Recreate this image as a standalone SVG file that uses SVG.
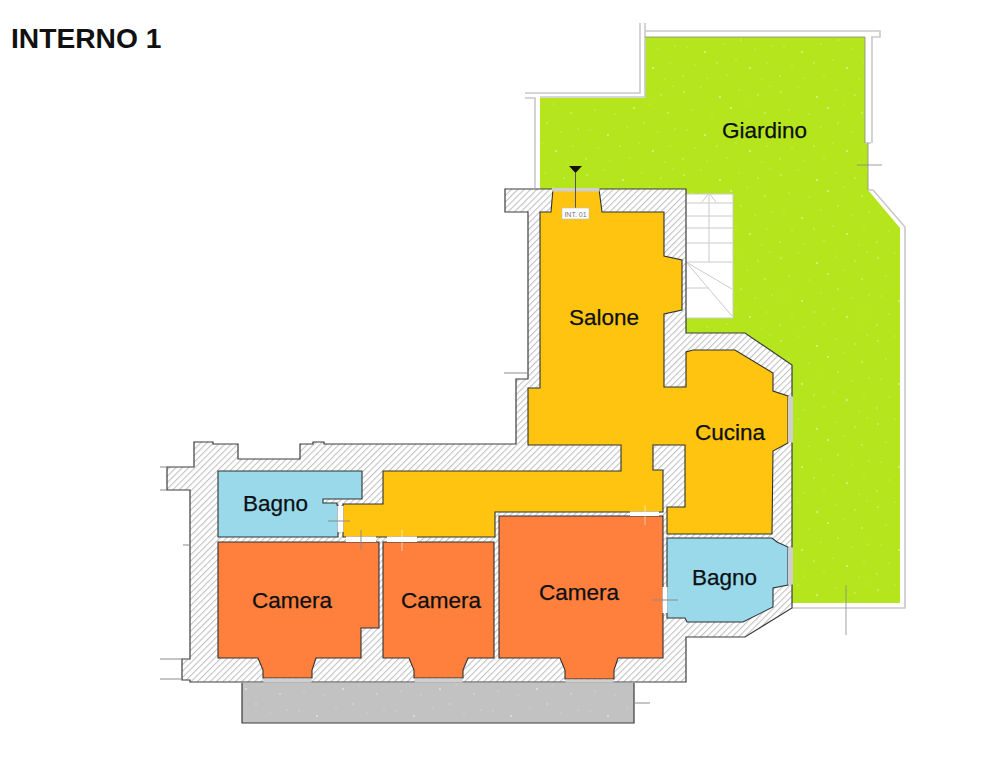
<svg xmlns="http://www.w3.org/2000/svg" width="999" height="768" viewBox="0 0 999 768">
<style>
.room{stroke:#2f3233;stroke-width:1.1;stroke-linejoin:miter}
.lbl{font-family:"Liberation Sans",Arial,sans-serif;font-size:22.5px;fill:#0c0f14;stroke:#0c0f14;stroke-width:.25}
.thin{fill:none;stroke:#8b8b8b;stroke-width:1}
.dbl{fill:none;stroke:#c9c9c9;stroke-width:1.6}
.stair{fill:none;stroke:#c8cccb;stroke-width:1}
.win{fill:#cfcfcf}
.gap{fill:#fff}
</style>
<defs>
<pattern id="hatch" width="4.500" height="4.500" patternUnits="userSpaceOnUse" patternTransform="rotate(-45)">
<rect width="4.500" height="4.500" fill="#fff"/><rect width="4.500" height="1.100" fill="#c2c2c2"/>
</pattern>
<pattern id="speck" width="97" height="83" patternUnits="userSpaceOnUse">
<g fill="#fff" opacity=".55">
<circle cx="5" cy="9" r=".8"/><circle cx="22" cy="4" r=".5"/><circle cx="41" cy="14" r=".9"/><circle cx="60" cy="7" r=".5"/><circle cx="79" cy="12" r=".7"/><circle cx="91" cy="3" r=".5"/>
<circle cx="13" cy="27" r=".6"/><circle cx="33" cy="31" r=".5"/><circle cx="52" cy="25" r=".9"/><circle cx="68" cy="21" r=".5"/><circle cx="86" cy="30" r=".8"/>
<circle cx="8" cy="47" r=".5"/><circle cx="26" cy="52" r=".9"/><circle cx="45" cy="44" r=".5"/><circle cx="62" cy="40" r=".7"/><circle cx="76" cy="49" r=".5"/><circle cx="93" cy="46" r=".6"/>
<circle cx="16" cy="65" r=".5"/><circle cx="38" cy="63" r=".7"/><circle cx="57" cy="60" r=".5"/><circle cx="71" cy="68" r=".9"/><circle cx="88" cy="63" r=".5"/>
<circle cx="4" cy="76" r=".7"/><circle cx="28" cy="78" r=".5"/><circle cx="48" cy="75" r=".6"/><circle cx="83" cy="79" r=".5"/>
</g>
</pattern>
</defs>
<rect width="999" height="768" fill="#fff"/>
<text id="titolo" x="11" y="48" font-family="'Liberation Sans',Arial,sans-serif" font-size="28.200" font-weight="700" fill="#111">INTERNO 1</text>

<g id="giardino">
<path d="M540 98H645V37H865V143H868V190L900 228V603H792V365L745 333H686V318H733V194H686V189H540Z" fill="#b5e61d"/>
<path d="M540 98H645V37H865V143H868V190L900 228V603H792V365L745 333H686V318H733V194H686V189H540Z" fill="url(#speck)"/>
<path class="dbl" d="M525 93H640V23M645 23V97H540M525 98H535V188M645 31H880V37H871M872 143V37M865 143H871M868 190H873L905 227V608H792"/>
<path d="M645 37H865V143M868 143V190M857 165H882M846 585V635" fill="none" stroke="#888" stroke-width=".8"/>
</g>

<g id="scala">
<rect x="686" y="194" width="47" height="124" fill="#fff"/>
<path class="stair" d="M686 194H733V318H686M686 203H733M686 216H733M686 228H733M686 243H733M686 262H733M709 194V262M686 262L732 289M686 262L732 316M686 288H709M702 202L709 193L716 202"/>
</g>

<g id="terrazza">
<rect x="242" y="683" width="392" height="40" fill="#c2c2c2"/>
<rect x="242" y="683" width="392" height="40" fill="url(#speck)"/>
<path d="M242 683V723H634V683" fill="none" stroke="#3a3a3a" stroke-width="1.200"/>
<path d="M634 703H650" class="thin"/>
</g>

<g id="muri">
<path d="M505 189H686V333H745L792 365V608L745 637H686V682H190V680H182V659H190V490H167V467H194V442H213V444H238V459H300V444H313V442H324V444H516V379H528V212H505Z" fill="url(#hatch)" stroke="#3a3d3e" stroke-width="1.200"/>
<path class="thin" d="M160 659H182M160 679H182M160 467H167M160 490H167M183 545H190M504 373H528"/>
</g>

<g id="interno-soggiorno">
<path class="room" fill="#ffc40f" d="M540 212H551L553 189H599L602 212H664V256L682 260V310L664 314V387H686V352L693 350H735L773 373V391L788 396V443L773 451L772 534H667V507H685V445H653V470H663V512H495V537H343V504H383V471H621V445H528V388H540Z"/>
</g>

<g id="bagno-1"><path class="room" fill="#99d9ea" d="M218 471H362V499H323V503H337V505H338V537H218Z"/></g>
<g id="camera-1"><path class="room" fill="#ff7f3c" d="M218 542H379V628H361V658H316L312 670V678H263V670L258 658H218Z"/></g>
<g id="camera-2"><path class="room" fill="#ff7f3c" d="M383 542H494V658H468L463 670V678H414V670L409 658H383Z"/></g>
<g id="camera-3"><path class="room" fill="#ff7f3c" d="M499 516H663V658H618L614 670V679H565V670L560 658H499Z"/></g>
<g id="bagno-2"><path class="room" fill="#99d9ea" d="M667 538H772L777 542L788 547V585L773 588V607L743 622H687L685 618H667Z"/></g>

<g id="aperture">
<rect class="win" x="552" y="188" width="47.500" height="3.500"/>
<rect class="win" x="788" y="396.500" width="5" height="46"/>
<rect class="win" x="788" y="547.500" width="5" height="37"/>
<rect class="win" x="263.500" y="678.500" width="48" height="4"/>
<rect class="win" x="414.500" y="678.500" width="48" height="4"/>
<rect class="win" x="565.500" y="679.500" width="48" height="3"/>
<rect class="gap" x="337.500" y="506" width="6" height="26"/>
<rect class="gap" x="346" y="536.500" width="30" height="5.500"/>
<rect class="gap" x="387" y="536.500" width="30" height="5.500"/>
<rect class="gap" x="630" y="511.500" width="29" height="4.500"/>
<rect class="gap" x="662.500" y="587" width="5" height="26"/>
<path class="thin" d="M328 521H350M361 530V550M653 600H678"/>
<path d="M402 530V551M645 505V525" stroke="#fff" stroke-opacity=".55" stroke-width="1" fill="none"/>
</g>

<g id="accesso">
<path d="M569 166H582L575.500 173Z" fill="#111"/>
<path d="M575.500 173V208" stroke="#555" stroke-width="1"/>
<rect x="562" y="208" width="27" height="11" fill="#fff" stroke="#bbb" stroke-width=".6"/>
<text x="575.500" y="216.500" text-anchor="middle" font-family="'Liberation Sans',Arial,sans-serif" font-size="7" fill="#777">INT. 01</text>
</g>

<g id="etichette">
<text class="lbl" x="722" y="138">Giardino</text>
<text class="lbl" x="569" y="325">Salone</text>
<text class="lbl" x="695" y="440">Cucina</text>
<text class="lbl" x="243" y="510.500">Bagno</text>
<text class="lbl" x="252" y="608">Camera</text>
<text class="lbl" x="401" y="608">Camera</text>
<text class="lbl" x="539" y="600">Camera</text>
<text class="lbl" x="692" y="585">Bagno</text>
</g>
</svg>
